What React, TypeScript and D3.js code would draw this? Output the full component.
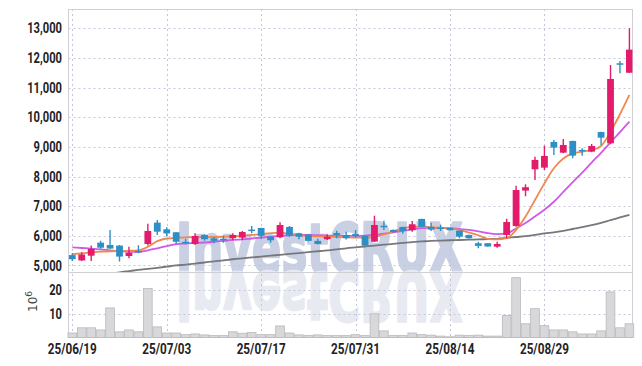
import React, { useEffect, useRef } from "react";
import * as d3 from "d3";

// trading days (yy/mm/dd)
const dates = [
  "25/06/19", "25/06/20", "25/06/23", "25/06/24", "25/06/25", "25/06/26", "25/06/27", "25/06/30",
  "25/07/01", "25/07/02", "25/07/03", "25/07/04", "25/07/07", "25/07/08", "25/07/09", "25/07/10",
  "25/07/11", "25/07/14", "25/07/15", "25/07/16", "25/07/17", "25/07/18", "25/07/21", "25/07/22",
  "25/07/23", "25/07/24", "25/07/25", "25/07/28", "25/07/29", "25/07/30", "25/07/31", "25/08/01",
  "25/08/04", "25/08/05", "25/08/06", "25/08/07", "25/08/08", "25/08/11", "25/08/12", "25/08/13",
  "25/08/14", "25/08/18", "25/08/19", "25/08/20", "25/08/21", "25/08/22", "25/08/25", "25/08/26",
  "25/08/27", "25/08/28", "25/08/29", "25/09/01", "25/09/02", "25/09/03", "25/09/04", "25/09/05",
  "25/09/08", "25/09/09", "25/09/10", "25/09/11",
];
const opens = [
  5350, 5170, 5330, 5770, 5690, 5670, 5320, 5490, 5725, 6445, 6220, 6120, 5800, 5725, 6030, 5915,
  5900, 5920, 5940, 6210, 6265, 5970, 5950, 6300, 6085, 6040, 5830, 5885, 6095, 6030, 6060, 6000,
  5805, 6340, 6200, 6300, 6190, 6570, 6300, 6280, 6265, 6175, 6030, 5750, 5750, 5635, 6030, 6330,
  7525, 8245, 8300, 9165, 8805, 9200, 8900, 8840, 9500, 9120, 11820, 11500,
];
const highs = [
  5410, 5450, 5670, 5830, 6200, 5690, 5630, 5680, 6410, 6535, 6290, 6130, 5900, 6090, 6050, 5950,
  6000, 6090, 6165, 6330, 6270, 5990, 6460, 6330, 6100, 6050, 5905, 6050, 6175, 6140, 6200, 6010,
  6680, 6510, 6210, 6310, 6500, 6580, 6440, 6370, 6275, 6180, 6035, 5800, 5755, 5800, 6580, 7690,
  7740, 8670, 9040, 9235, 9265, 9210, 8950, 9100, 9510, 11760, 11900, 13000,
];
const lows = [
  5150, 5150, 5150, 5560, 5560, 5130, 5240, 5410, 5670, 6030, 5980, 5730, 5720, 5690, 5830, 5750,
  5770, 5850, 5860, 6090, 5895, 5770, 5915, 5970, 5885, 5820, 5710, 5860, 5920, 5880, 5940, 5660,
  5790, 6200, 6100, 6075, 6140, 6290, 6160, 6160, 6180, 5915, 5910, 5580, 5630, 5600, 5920, 6310,
  7335, 7885, 8220, 8730, 8785, 8615, 8700, 8820, 9065, 9090, 11480, 11500,
];
const closes = [
  5210, 5370, 5560, 5600, 5570, 5300, 5430, 5470, 6165, 6140, 6080, 5800, 5780, 5995, 5885, 5830,
  5870, 6030, 6130, 6190, 6000, 5850, 6365, 6005, 5970, 5830, 5725, 5970, 6030, 5920, 5985, 5670,
  6365, 6325, 6130, 6165, 6390, 6300, 6210, 6265, 6190, 5970, 5920, 5660, 5640, 5725, 6465, 7545,
  7640, 8560, 8695, 8975, 9065, 8705, 8870, 9030, 9310, 11290, 11790, 12280,
];
// volume, millions of shares
const volumes = [
  1.9, 4.1, 4.1, 3.2, 12.5, 2.4, 3.2, 2.4, 20.7, 4.5, 1.9, 1.9, 1.2, 1.5, 1.1, 0.8,
  0.8, 2.4, 1.8, 2.1, 1.2, 1.2, 4.9, 1.9, 1.1, 0.8, 1.1, 0.8, 0.8, 0.8, 1.2, 0.8,
  10.0, 2.8, 0.8, 0.8, 1.9, 1.2, 1.0, 0.6, 0.3, 1.0, 0.8, 1.0, 0.6, 0.6, 9.3, 25.3,
  5.8, 12.2, 5.0, 3.2, 3.2, 2.4, 1.5, 1.5, 2.8, 19.3, 4.1, 5.8,
];
// moving averages as drawn
const ma5 = [
  5380, 5410, 5440, 5465, 5480, 5490, 5495, 5510, 5630, 5820, 5910, 5930, 5950, 5955, 5955, 5960,
  5970, 5985, 6000, 6030, 6055, 6090, 6110, 6070, 6020, 6000, 5980, 5970, 5960, 5950, 5940, 5940,
  5960, 6050, 6150, 6250, 6300, 6310, 6290, 6270, 6250, 6200, 6110, 6020, 5900, 5880, 5920, 6200,
  6650, 7210, 7770, 8280, 8610, 8780, 8840, 8890, 9030, 9510, 10100, 10750,
];
const ma20 = [
  5610, 5590, 5570, 5545, 5510, 5480, 5460, 5460, 5510, 5580, 5650, 5720, 5740, 5760, 5775, 5800,
  5830, 5860, 5880, 5910, 5940, 5970, 6000, 6020, 6030, 6030, 6020, 6010, 6000, 6000, 6000, 6010,
  6030, 6070, 6120, 6170, 6220, 6260, 6270, 6270, 6260, 6230, 6200, 6150, 6090, 6060, 6080, 6250,
  6430, 6650, 6880, 7150, 7480, 7810, 8130, 8470, 8800, 9150, 9500, 9850,
];
const ma60 = [
  4560, 4600, 4640, 4680, 4720, 4770, 4810, 4850, 4885, 4920, 4960, 5000, 5030, 5065, 5100, 5140,
  5170, 5210, 5240, 5270, 5300, 5330, 5360, 5390, 5420, 5450, 5480, 5510, 5540, 5580, 5610, 5640,
  5670, 5700, 5730, 5760, 5790, 5810, 5830, 5840, 5850, 5860, 5870, 5880, 5890, 5900, 5930, 5960,
  5990, 6030, 6080, 6120, 6170, 6230, 6290, 6360, 6440, 6530, 6620, 6710,
];
const priceTicks = [5000, 6000, 7000, 8000, 9000, 10000, 11000, 12000, 13000];
const volumeTicks = [10, 20];
const dateTicks = ["25/06/19", "25/07/03", "25/07/17", "25/07/31", "25/08/14", "25/08/29"];

const UP = "#e31b6a";
const DOWN = "#2e8fc6";
const GRID = "#c4c7db";
const FRAME = "#cfcfd4";
const LABEL_FONT = "Roboto, 'DejaVu Sans', sans-serif";

// narrow label look: squeeze text to the width of a condensed face
function labelWidth(s: string) {
  let w = 0;
  for (const c of s) w += c === "," ? 2.8 : c === "/" ? 5.3 : 6.4;
  return w;
}

export default function App() {
  const ref = useRef<SVGSVGElement>(null);

  useEffect(() => {
    drawChart();
  }, []);

  function drawChart() {
    const svg = d3.select(ref.current);
    svg.selectAll("*").remove();

    const left = 68.5, right = 632.5, top = 9, mid = 272, bottom = 337.5;

    const x = d3.scalePoint<string>().domain(dates).range([72.3, 629.4]);
    const step = x.step();
    const y = d3.scaleLinear().domain([4780, 13650]).range([mid, top]);
    const yv = d3.scaleLinear().domain([0, 27.7]).range([bottom, mid]);

    svg.append("defs").append("clipPath").attr("id", "main-clip")
      .append("rect").attr("x", left).attr("y", top).attr("width", right - left).attr("height", mid - top);

    // watermark + reflection
    const wm = svg.append("g");
    const wmText = (g: any, fill: string) =>
      g.append("text")
        .attr("x", 176).attr("y", mid)
        .attr("textLength", 287).attr("lengthAdjust", "spacingAndGlyphs")
        .attr("font-family", "'DejaVu Sans', sans-serif").attr("font-weight", "bold")
        .attr("font-size", 68).attr("fill", fill)
        .attr("stroke", fill).attr("stroke-width", 2.5).attr("stroke-linejoin", "round")
        .text("InvestCRUX");
    wmText(wm, "#c9d0e3");
    wmText(wm.append("g").attr("transform", `translate(0, ${mid * 2}) scale(1,-1)`), "#e8eaf1");

    // grid
    const grid = svg.append("g").attr("stroke", GRID).attr("stroke-dasharray", "2,3");
    grid.selectAll(".hg").data(priceTicks).join("line")
      .attr("x1", left).attr("x2", right)
      .attr("y1", (d) => Math.round(y(d)) + 0.5).attr("y2", (d) => Math.round(y(d)) + 0.5);
    grid.selectAll(".vg").data(volumeTicks).join("line")
      .attr("x1", left).attr("x2", right)
      .attr("y1", (d) => Math.round(yv(d)) + 0.5).attr("y2", (d) => Math.round(yv(d)) + 0.5);
    grid.selectAll(".xg").data(dateTicks).join("line")
      .attr("y1", top).attr("y2", bottom)
      .attr("x1", (d) => Math.round(x(d)!) + 0.5).attr("x2", (d) => Math.round(x(d)!) + 0.5);

    // frame
    const frame = svg.append("g").attr("stroke", FRAME).attr("fill", "none");
    frame.append("rect").attr("x", left).attr("y", top + 0.5).attr("width", right - left).attr("height", bottom - top - 0.5);
    frame.append("line").attr("x1", left).attr("x2", right).attr("y1", mid + 0.5).attr("y2", mid + 0.5);

    // volume bars
    svg.append("g").selectAll("rect").data(volumes).join("rect")
      .attr("x", (d, i) => x(dates[i])! - step * 0.46)
      .attr("width", step * 0.92)
      .attr("y", (d) => yv(d))
      .attr("height", (d) => bottom - yv(d))
      .attr("fill", "#d8d8da").attr("stroke", "#b9b9bd").attr("stroke-width", 0.8);

    const plot = svg.append("g").attr("clip-path", "url(#main-clip)");

    // moving averages
    const maLine = d3.line<number>()
      .x((d, i) => x(dates[i])!)
      .y((d) => y(d))
      .curve(d3.curveMonotoneX);
    [
      { values: ma60, color: "#77777c" },
      { values: ma20, color: "#cf5ae6" },
      { values: ma5, color: "#ef8950" },
    ].forEach((s) => {
      plot.append("path").attr("d", maLine(s.values)).attr("fill", "none")
        .attr("stroke", s.color).attr("stroke-width", 1.8);
    });

    // candles
    const bodyW = step * 0.72;
    const candles = plot.append("g").selectAll("g").data(dates).join("g");
    candles.append("line")
      .attr("x1", (d) => x(d)!).attr("x2", (d) => x(d)!)
      .attr("y1", (d, i) => y(highs[i])).attr("y2", (d, i) => y(lows[i]))
      .attr("stroke", (d, i) => (closes[i] >= opens[i] ? UP : DOWN)).attr("stroke-width", 1.4);
    candles.append("rect")
      .attr("x", (d) => x(d)! - bodyW / 2).attr("width", bodyW)
      .attr("y", (d, i) => y(Math.max(opens[i], closes[i])))
      .attr("height", (d, i) => Math.max(1.5, Math.abs(y(opens[i]) - y(closes[i]))))
      .attr("fill", (d, i) => (closes[i] >= opens[i] ? UP : DOWN));

    // y labels
    const fmt = d3.format(",");
    svg.append("g").selectAll("text").data(priceTicks).join("text")
      .attr("x", 62).attr("y", (d) => y(d)).attr("dy", "0.36em")
      .attr("text-anchor", "end").attr("font-family", LABEL_FONT).attr("font-weight", "bold")
      .attr("font-size", 14).attr("fill", "#222226")
      .attr("textLength", (d) => labelWidth(fmt(d))).attr("lengthAdjust", "spacingAndGlyphs")
      .text((d) => fmt(d));
    svg.append("g").selectAll("text").data(volumeTicks).join("text")
      .attr("x", 62).attr("y", (d) => yv(d)).attr("dy", "0.36em")
      .attr("text-anchor", "end").attr("font-family", LABEL_FONT).attr("font-weight", "bold")
      .attr("font-size", 14).attr("fill", "#222226")
      .attr("textLength", (d) => labelWidth(String(d))).attr("lengthAdjust", "spacingAndGlyphs")
      .text((d) => d);

    // unit label 10^6
    const unit = svg.append("text")
      .attr("transform", "translate(37, 312) rotate(-90)")
      .attr("font-family", "'DejaVu Sans', sans-serif").attr("font-size", 12).attr("fill", "#444");
    unit.append("tspan").text("10");
    unit.append("tspan").attr("dy", -5).attr("font-size", 9).text("6");

    // x labels
    svg.append("g").selectAll("text").data(dateTicks).join("text")
      .attr("x", (d) => x(d)!).attr("y", 354)
      .attr("text-anchor", "middle").attr("font-family", LABEL_FONT).attr("font-weight", "bold")
      .attr("font-size", 15).attr("fill", "#222226")
      .attr("textLength", (d) => labelWidth(d)).attr("lengthAdjust", "spacingAndGlyphs")
      .text((d) => d);
  }

  return (
    <svg ref={ref} width={642} height={366}
      style={{ position: "absolute", left: 0, top: 0, background: "#fff" }} />
  );
}
